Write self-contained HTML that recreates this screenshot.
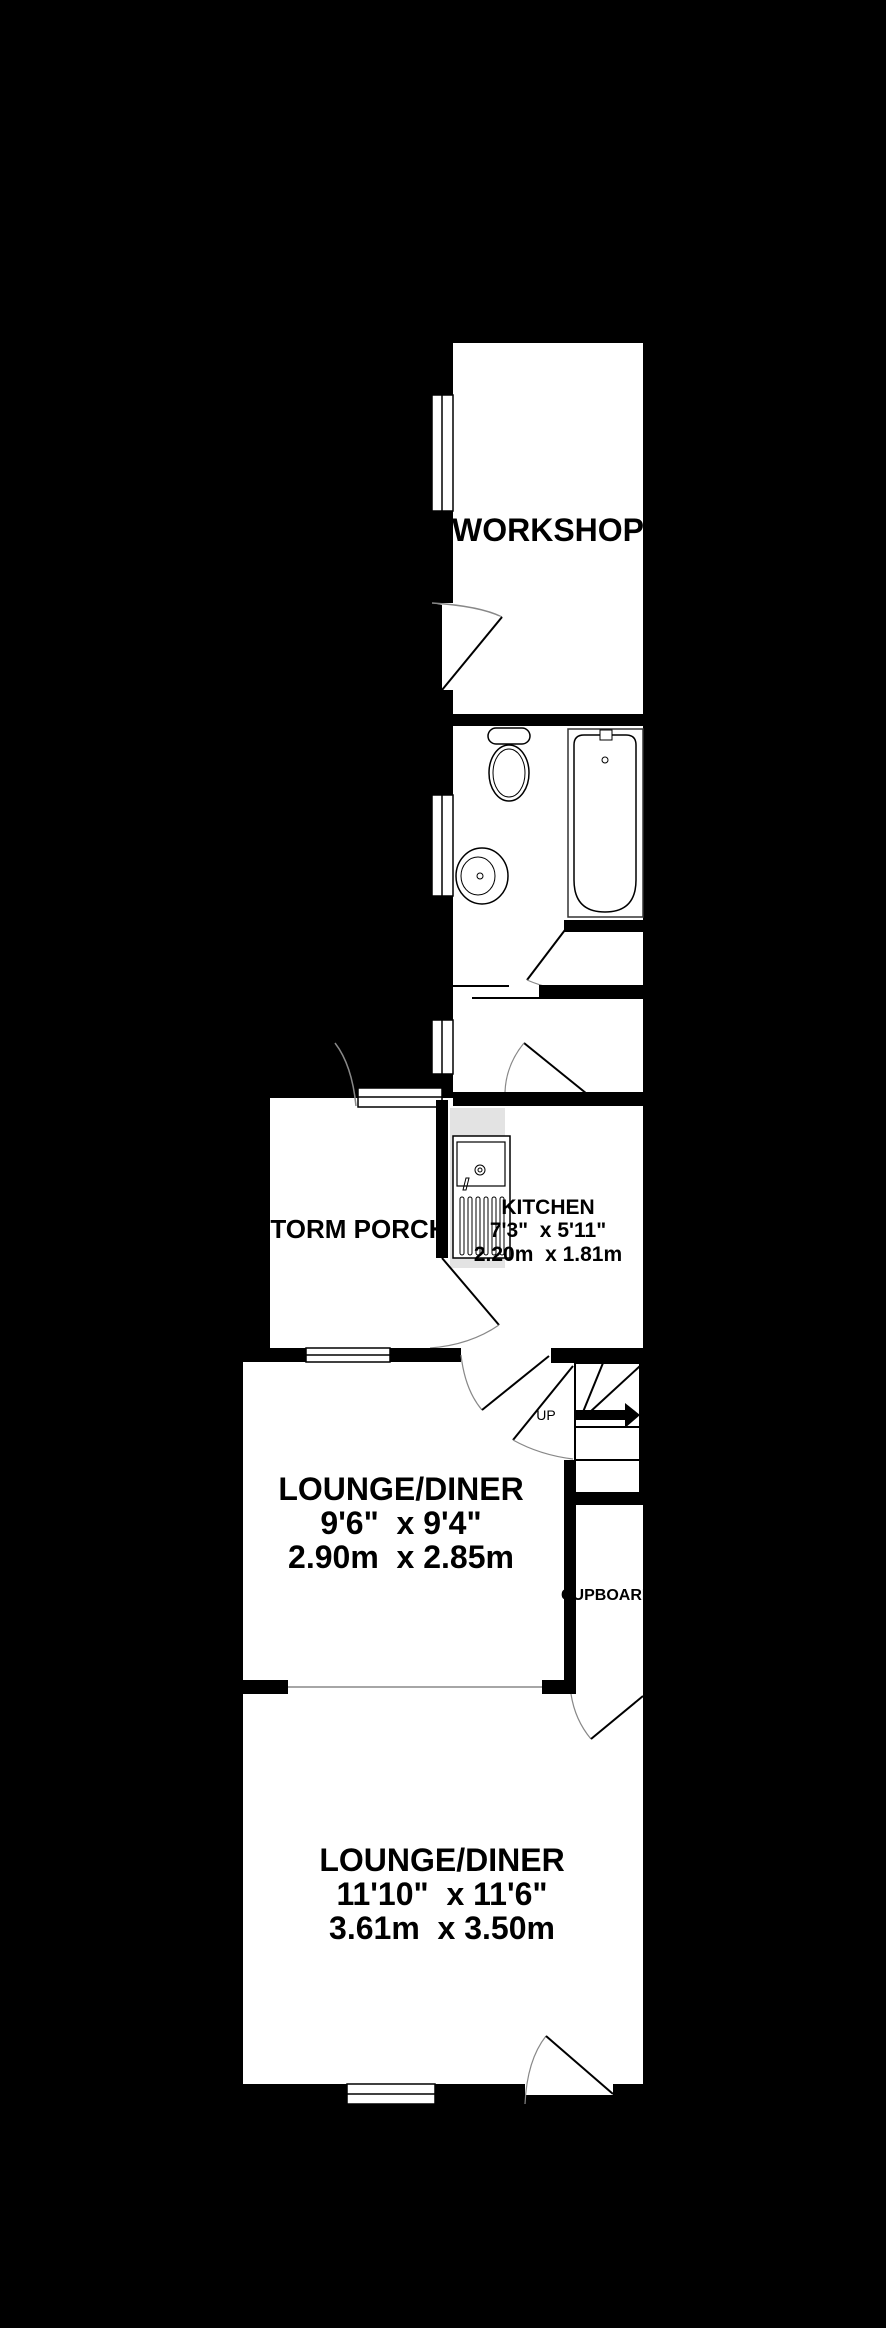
<!DOCTYPE html>
<html><head><meta charset="utf-8"><style>html,body{margin:0;padding:0;background:#000}svg{display:block}text{white-space:pre}</style></head>
<body>
<svg width="886" height="2328" viewBox="0 0 886 2328" xmlns="http://www.w3.org/2000/svg" font-family="Liberation Sans, Arial, sans-serif" font-weight="bold" xml:space="preserve">
<rect width="886" height="2328" fill="#000"/>
<!-- Workshop -->
<rect x="453" y="343" width="190" height="371" fill="#fff"/>
<rect x="432" y="395" width="21" height="116" fill="#fff" stroke="#000" stroke-width="1.5"/>
<line x1="442" y1="395" x2="442" y2="511" stroke="#000" stroke-width="1.5"/>
<rect x="442" y="603" width="11" height="87" fill="#fff"/>
<path d="M432,603 Q480,606 502,617" fill="#fff" stroke="#888" stroke-width="1.5"/>
<polygon points="442,605 502,617 442,690" fill="#fff"/>
<line x1="442" y1="690" x2="502" y2="617" stroke="#000" stroke-width="2"/>
<text x="548" y="541" font-size="32" text-anchor="middle" fill="#000">WORKSHOP</text>
<rect x="643" y="330" width="30" height="400" fill="#000"/>
<!-- Bathroom / corridor -->
<rect x="453" y="726" width="190" height="366" fill="#fff"/>
<rect x="568" y="729" width="75" height="188" fill="#fff" stroke="#333" stroke-width="1.5"/>
<path d="M574,880 L574,745 Q574,735 584,735 L626,735 Q636,735 636,745 L636,880 Q636,912 605,912 Q574,912 574,880 Z" fill="#fff" stroke="#000" stroke-width="1.5"/>
<rect x="600" y="730" width="12" height="10" fill="#fff" stroke="#000" stroke-width="1"/>
<circle cx="605" cy="760" r="3" fill="none" stroke="#000"/>
<rect x="488" y="728" width="42" height="16" rx="8" fill="#fff" stroke="#000" stroke-width="1.5"/>
<ellipse cx="509" cy="773" rx="20" ry="28" fill="#fff" stroke="#000" stroke-width="1.5"/>
<ellipse cx="509" cy="773" rx="16" ry="24" fill="none" stroke="#000" stroke-width="1"/>
<ellipse cx="482" cy="876" rx="26" ry="28" fill="#fff" stroke="#000" stroke-width="1.5"/>
<ellipse cx="478" cy="876" rx="17" ry="19" fill="none" stroke="#000" stroke-width="1"/>
<circle cx="480" cy="876" r="3" fill="none" stroke="#000"/>
<rect x="432" y="795" width="21" height="101" fill="#fff" stroke="#000" stroke-width="1.5"/>
<line x1="442" y1="795" x2="442" y2="896" stroke="#000" stroke-width="1.5"/>
<rect x="564" y="920" width="79" height="12" fill="#000"/>
<line x1="568" y1="926" x2="527" y2="980" stroke="#000" stroke-width="2"/>
<path d="M527,980 Q550,990 580,992" fill="none" stroke="#888" stroke-width="1.2"/>
<rect x="539" y="985" width="104" height="14" fill="#000"/>
<line x1="453" y1="986" x2="509" y2="986" stroke="#000" stroke-width="2"/>
<line x1="472" y1="998" x2="539" y2="998" stroke="#000" stroke-width="2"/>
<rect x="432" y="1020" width="21" height="54" fill="#fff" stroke="#000" stroke-width="1.5"/>
<line x1="442" y1="1020" x2="442" y2="1074" stroke="#000" stroke-width="1.5"/>
<!-- Kitchen top wall -->
<rect x="453" y="1092" width="52" height="14" fill="#000"/>
<rect x="592" y="1092" width="51" height="14" fill="#000"/>
<line x1="592" y1="1098" x2="524" y2="1043" stroke="#000" stroke-width="2"/>
<path d="M524,1043 Q506,1065 505,1092" fill="none" stroke="#888" stroke-width="1.2"/>
<!-- Porch -->
<rect x="270" y="1098" width="183" height="250" fill="#fff"/>
<rect x="448" y="1106" width="195" height="242" fill="#fff"/>
<rect x="358" y="1088" width="84" height="19" fill="#fff" stroke="#000" stroke-width="1.5"/>
<line x1="358" y1="1097" x2="442" y2="1097" stroke="#000" stroke-width="1.5"/>
<path d="M335,1043 Q352,1065 356,1106" fill="none" stroke="#888" stroke-width="1.5"/>
<!-- sink -->
<rect x="450" y="1108" width="55" height="160" fill="#e3e3e3"/>
<rect x="453" y="1136" width="57" height="122" fill="#fff" stroke="#000" stroke-width="1.5"/>
<rect x="457" y="1142" width="48" height="44" fill="#fff" stroke="#000" stroke-width="1.2"/>
<circle cx="480" cy="1170" r="5" fill="none" stroke="#000"/><circle cx="480" cy="1170" r="2" fill="none" stroke="#000"/>
<path d="M463,1190 L466,1178 L469,1178 L466,1190 Z" fill="none" stroke="#000"/>
<g fill="none" stroke="#000" stroke-width="1"><rect x="460" y="1197" width="4" height="58" rx="2"/><rect x="468" y="1197" width="4" height="58" rx="2"/><rect x="476" y="1197" width="4" height="58" rx="2"/><rect x="484" y="1197" width="4" height="58" rx="2"/><rect x="492" y="1197" width="4" height="58" rx="2"/><rect x="500" y="1197" width="4" height="58" rx="2"/></g>
<text x="253" y="1238" font-size="26" text-anchor="start" fill="#000">STORM PORCH</text>
<rect x="230" y="1098" width="40" height="250" fill="#000"/>
<rect x="436" y="1100" width="12" height="158" fill="#000"/>
<text fill="#000" font-size="21" text-anchor="middle"><tspan x="548" y="1214">KITCHEN</tspan><tspan x="548" y="1237">7'3"  x 5'11"</tspan><tspan x="548" y="1261">2.20m  x 1.81m</tspan></text>
<line x1="442" y1="1258" x2="499" y2="1325" stroke="#000" stroke-width="2"/>
<path d="M499,1325 Q470,1345 430,1348" fill="none" stroke="#888" stroke-width="1.2"/>
<!-- Lounge 1 -->
<rect x="243" y="1362" width="321" height="332" fill="#fff"/>
<rect x="270" y="1348" width="191" height="14" fill="#000"/>
<rect x="306" y="1348" width="84" height="14" fill="#fff" stroke="#000" stroke-width="1.5"/>
<line x1="306" y1="1355" x2="390" y2="1355" stroke="#000" stroke-width="1.5"/>
<rect x="551" y="1349" width="92" height="14" fill="#000"/>
<rect x="461" y="1348" width="90" height="14" fill="#fff"/>
<path d="M461,1355 Q465,1390 482,1410" fill="none" stroke="#888" stroke-width="1.2"/>
<line x1="482" y1="1410" x2="549" y2="1356" stroke="#000" stroke-width="2"/>
<!-- stairs region -->
<rect x="564" y="1363" width="79" height="97" fill="#fff"/>
<line x1="513" y1="1440" x2="573" y2="1366" stroke="#000" stroke-width="2"/>
<path d="M513,1440 Q540,1455 573,1459" fill="none" stroke="#888" stroke-width="1.2"/>
<text x="546" y="1420" font-size="14" font-weight="normal" text-anchor="middle" fill="#000">UP</text>
<rect x="575" y="1363" width="65" height="130" fill="#fff" stroke="#000" stroke-width="2"/>
<rect x="640" y="1349" width="6" height="150" fill="#000"/>
<line x1="583" y1="1412" x2="603" y2="1363" stroke="#000" stroke-width="2"/>
<line x1="590" y1="1412" x2="640" y2="1366" stroke="#000" stroke-width="2"/>
<line x1="575" y1="1427" x2="640" y2="1427" stroke="#000" stroke-width="2"/>
<line x1="575" y1="1460" x2="640" y2="1460" stroke="#000" stroke-width="2"/>
<rect x="575" y="1410" width="50" height="10" fill="#000"/>
<polygon points="625,1403 640,1415 625,1428" fill="#000"/>
<rect x="564" y="1460" width="12" height="234" fill="#000"/>
<rect x="564" y="1493" width="79" height="12" fill="#000"/>
<!-- cupboard -->
<rect x="576" y="1505" width="67" height="189" fill="#fff"/>
<text x="561" y="1600" font-size="16" text-anchor="start" fill="#000">CUPBOARD</text>
<rect x="643" y="1500" width="20" height="200" fill="#000"/>
<text fill="#000" font-size="32" text-anchor="middle"><tspan x="401" y="1500">LOUNGE/DINER</tspan><tspan x="401" y="1534">9'6"  x 9'4"</tspan><tspan x="401" y="1568">2.90m  x 2.85m</tspan></text>
<!-- wall between lounges -->
<rect x="243" y="1680" width="45" height="14" fill="#000"/>
<rect x="542" y="1680" width="34" height="14" fill="#000"/>
<line x1="288" y1="1687" x2="542" y2="1687" stroke="#888" stroke-width="1.5"/>
<!-- Lounge 2 -->
<rect x="243" y="1694" width="400" height="390" fill="#fff"/>
<path d="M571,1694 Q575,1720 591,1739" fill="none" stroke="#888" stroke-width="1.2"/>
<line x1="591" y1="1739" x2="643" y2="1696" stroke="#000" stroke-width="2"/>
<text fill="#000" font-size="32" text-anchor="middle"><tspan x="442" y="1871">LOUNGE/DINER</tspan><tspan x="442" y="1905">11'10"  x 11'6"</tspan><tspan x="442" y="1939">3.61m  x 3.50m</tspan></text>
<rect x="347" y="2084" width="88" height="20" fill="#fff" stroke="#000" stroke-width="1.5"/>
<line x1="347" y1="2094" x2="435" y2="2094" stroke="#000" stroke-width="1.5"/>
<rect x="525" y="2084" width="88" height="11" fill="#fff"/>
<path d="M546,2036 Q527,2060 525,2104" fill="none" stroke="#888" stroke-width="1.2"/>
<line x1="546" y1="2036" x2="613" y2="2094" stroke="#000" stroke-width="2"/>
</svg>
</body></html>
